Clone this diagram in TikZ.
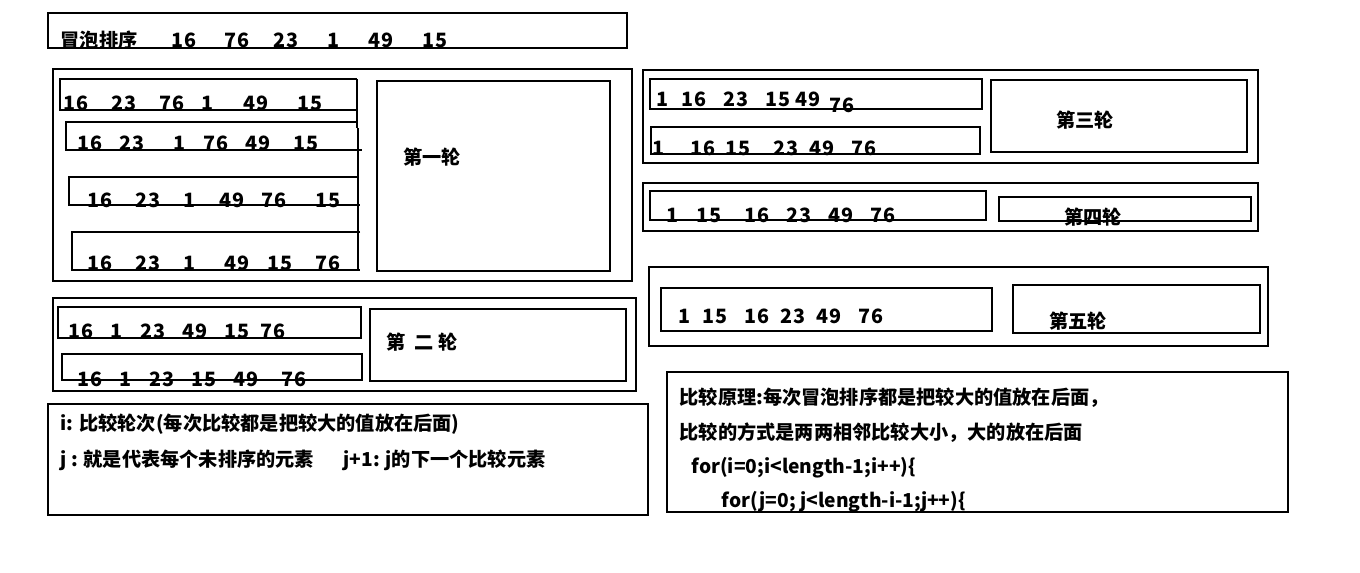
\documentclass[tikz,border=0pt]{standalone}
\usepackage{fontspec}
\setmainfont{Noto Sans CJK SC}
\newcommand\numrow[3]{%
  \foreach \xx/\nn [count=\k] in {#3} {\node[num] (#1-\k) at (\xx,#2) {\nn};}}
\begin{document}
\begin{tikzpicture}[x=0.75pt,y=-0.75pt, line width=0.9pt,
  num/.style={font=\fontsize{14.8pt}{16pt}\selectfont\bfseries, inner sep=0pt, anchor=base},
  txt/.style={font=\fontsize{14.4pt}{16pt}\selectfont\bfseries, inner sep=0pt, anchor=base west},
  lbl/.style={font=\fontsize{14.4pt}{16pt}\selectfont\bfseries, inner sep=0pt, anchor=center}]
\useasboundingbox (0,0) rectangle (1360,572);
\fill[white] (0,0) rectangle (1360,572);

% title
\draw (48,13) rectangle (627,48);
\node[txt] (title) at (60,47) {冒泡排序};
\numrow{t}{47}{184/16,237/76,286/23,334/1,381/49,435/15}

% round 1
\draw (53,69) rectangle (632,281);
\draw (357,79) -- (60,79) -- (60,110) -- (357,110);
\draw (357,122) -- (66,122) -- (66,150) -- (362,150);
\draw (358,177) -- (69,177) -- (69,205) -- (360,205);
\draw (360,232) -- (72,232) -- (72,270) -- (360,270);
\draw (357,79) -- (357,128);
\draw (358,128) -- (358,270);
\numrow{ra}{110}{76/16,124/23,172/76,208/1,256/49,310/15}
\numrow{rb}{150}{90/16,132/23,180/1,216/76,258/49,306/15}
\numrow{rc}{207}{100/16,148/23,190/1,232/49,274/76,328/15}
\numrow{rd}{270}{100/16,148/23,190/1,237/49,280/15,328/76}
\draw (377,81) rectangle (610,271);
\node[lbl] (l1) at (432,157) {第一轮};

% round 2
\draw (53,298) rectangle (636,391);
\draw (58,307) rectangle (361,338);
\draw (62,354) rectangle (362,380);
\numrow{sa}{338}{81/16,117/1,153/23,195/49,237/15,273/76}
\numrow{sb}{386}{90/16,126/1,162/23,204/15,246/49,294/76}
\draw (370,309) rectangle (626,381);
\node[lbl] (l2) at (422,342) {第\ \ 二\ 轮};

% notes left
\draw (48,404) rectangle (648,515);
\node[txt] (n1) at (60,430) {i: 比较轮次(每次比较都是把较大的值放在后面)};
\node[txt] (n2) at (60,466) {j : 就是代表每个未排序的元素};
\node[txt] (n3) at (343,466) {j+1: j的下一个比较元素};

% round 3
\draw (643,70) rectangle (1258,163);
\draw (650,79) rectangle (982,109);
\draw (651,127) rectangle (980,154);
\numrow{ua}{106}{663/1,694/16,736/23,778/15,808/49}
\node[num] (ua-6) at (842,112) {76};
\numrow{ub}{155}{659/1,703/16,738/15,786/23,822/49,864/76}
\draw (991,80) rectangle (1247,152);
\node[lbl] (l3) at (1085,120) {第三轮};

% round 4
\draw (643,183) rectangle (1258,231);
\draw (650,191) rectangle (986,220);
\numrow{va}{222}{673/1,709/15,757/16,799/23,841/49,883/76}
\draw (999,197) rectangle (1251,221);
\node[lbl] (l4) at (1093,217) {第四轮};

% round 5
\draw (649,267) rectangle (1268,346);
\draw (661,288) rectangle (992,331);
\numrow{wa}{323}{685/1,715/15,757/16,793/23,829/49,871/76}
\draw (1013,285) rectangle (1260,333);
\node[lbl] (l5) at (1078,321) {第五轮};

% notes right
\draw (667,372) rectangle (1288,512);
\node[txt] (m1) at (679,404) {比较原理:每次冒泡排序都是把较大的值放在后面，};
\node[txt] (m2) at (679,439) {比较的方式是两两相邻比较大小，大的放在后面};
\node[txt] (m3) at (691,473) {for(i=0;i<length-1;i++)\{};
\node[txt] (m4) at (721,507) {for(j=0; j<length-i-1;j++)\{};
\end{tikzpicture}
\end{document}
